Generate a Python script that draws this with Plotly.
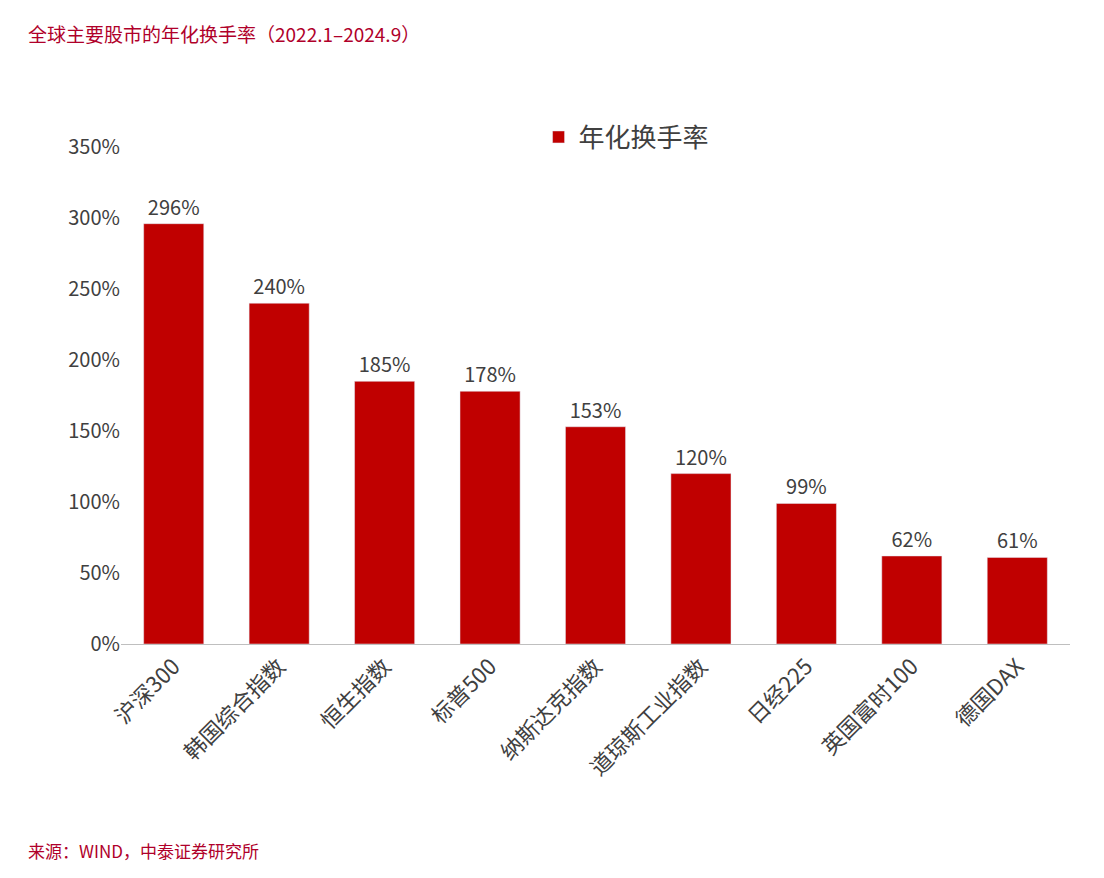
import plotly.graph_objects as go

categories = ["沪深300", "韩国综合指数", "恒生指数", "标普500", "纳斯达克指数",
              "道琼斯工业指数", "日经225", "英国富时100", "德国DAX"]
turnover = [296, 240, 185, 178, 153, 120, 99, 62, 61]
labels = [f"{v}%" for v in turnover]

font = "Noto Sans CJK SC"
fig = go.Figure(go.Bar(
    x=categories, y=turnover, name="年化换手率",
    marker_color="#c00000", text=labels, textposition="outside",
    textfont=dict(size=20, color="#404040"), cliponaxis=False,
))
fig.update_layout(
    width=1104, height=878, plot_bgcolor="white", paper_bgcolor="white",
    margin=dict(l=113, r=42, t=139, b=242, autoexpand=False),
    font=dict(family=font, size=20, color="#404040"),
    bargap=0.43, showlegend=True,
    legend=dict(x=0.44, y=1.02, xanchor="left", yanchor="middle",
                font=dict(size=26, color="#404040")),
    xaxis=dict(tickangle=-45, showline=True, linecolor="#bfbfbf",
               tickfont=dict(size=22)),
    yaxis=dict(range=[0, 350], dtick=50, ticksuffix="%", showgrid=False,
               showline=False, zeroline=False),
    annotations=[
        dict(text="全球主要股市的年化换手率（2022.1–2024.9）", xref="paper", yref="paper",
             x=-0.1, y=1.229, xanchor="left", yanchor="middle", showarrow=False,
             font=dict(size=19, color="#b0002a")),
        dict(text="来源：WIND，中泰证券研究所", xref="paper", yref="paper",
             x=-0.1, y=-0.416, xanchor="left", yanchor="middle", showarrow=False,
             font=dict(size=17, color="#b0002a")),
    ],
)
fig.write_html("out.html")
